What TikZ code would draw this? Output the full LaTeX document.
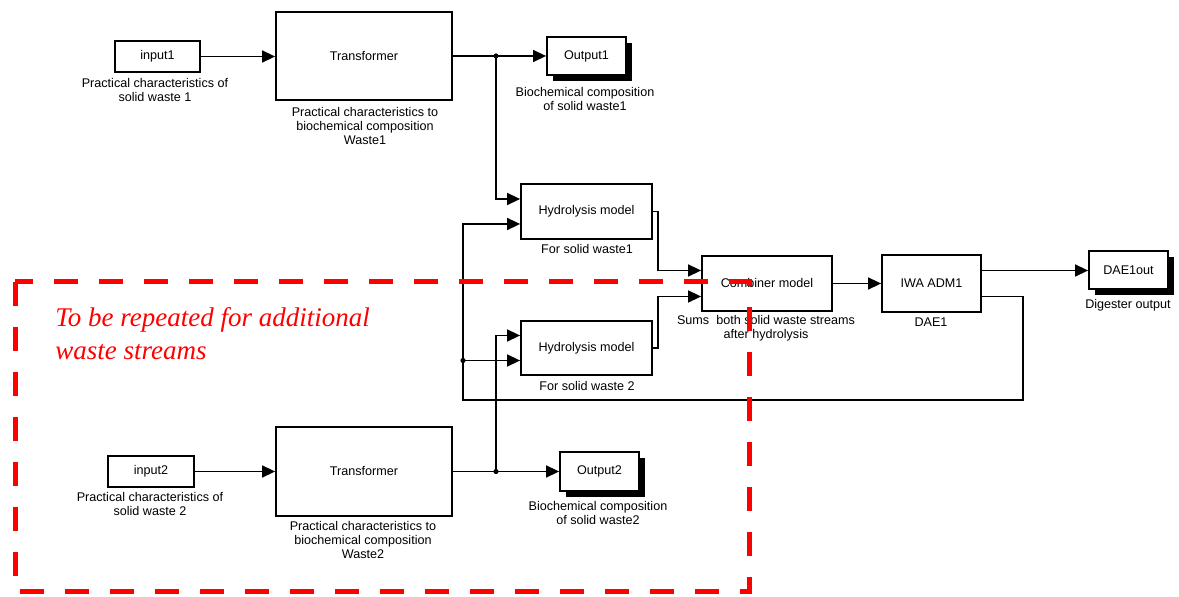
\documentclass[tikz,border=0pt]{standalone}
\usepackage{fontspec}
\setmainfont{Liberation Sans}
\newfontfamily\redserif{Liberation Serif}
\usetikzlibrary{arrows.meta,calc,shadows}
\begin{document}
\begin{tikzpicture}[x=0.5pt,y=-0.5pt,
  blk/.style={draw,line width=0.9pt,fill=white,inner sep=0pt,font=\fontsize{6.3}{7.5}\selectfont},
  oblk/.style={blk,minimum width=39.5pt,minimum height=19pt,drop shadow={shadow xshift=3pt,shadow yshift=-3pt,opacity=1,fill=black}},
  lbl/.style={align=center,inner sep=0pt,font=\fontsize{6.3}{7}\selectfont},
  wire/.style={line width=0.75pt},
  arr/.style={wire,-{Triangle[length=6.5pt,width=6pt]}},
  redlbl/.style={text=red,inner sep=0pt,anchor=base west,font=\redserif\itshape\fontsize{13.5}{16}\selectfont},
  redbox/.style={draw=red,line width=2.5pt,dash pattern=on 12pt off 10.5pt}
]
\useasboundingbox (0,0) rectangle (1179,597);

% upper stream
\node[blk,minimum width=42.5pt,minimum height=15.5pt] (in1) at (157.5,56.5) {input1};
\node[lbl] (in1l) at (155,90.5) {Practical characteristics of\\solid waste 1};
\node[blk,minimum width=88pt,minimum height=44pt] (tr1) at (364,56) {Transformer};
\node[lbl] (tr1l) at (365,126) {Practical characteristics to\\biochemical composition\\Waste1};
\node[oblk] (out1) at (586.5,56) {Output1};
\node[lbl] (out1l) at (585,99) {Biochemical composition\\of solid waste1};

% hydrolysis
\node[blk,minimum width=65.5pt,minimum height=27.5pt] (hy1) at (586.5,211.5) {Hydrolysis model};
\node[lbl] (hy1l) at (587,249) {For solid waste1};
\node[blk,minimum width=65.5pt,minimum height=27pt] (hy2) at (586.5,348) {Hydrolysis model};
\node[lbl] (hy2l) at (587,386) {For solid waste 2};

% combiner, ADM1, output
\node[blk,minimum width=65pt,minimum height=27.5pt] (cmb) at (767,283.5) {Combiner model};
\node[lbl] (cmbl) at (766,328) {Sums\ \ both solid waste streams\\after hydrolysis};
\node[blk,minimum width=49.5pt,minimum height=28.5pt] (iwa) at (931.5,283.5) {IWA ADM1};
\node[lbl] (iwal) at (931,322) {DAE1};
\node[oblk] (dae) at (1128.5,270) {DAE1out};
\node[lbl] (dael) at (1128,305) {Digester output};

% lower stream
\node[blk,minimum width=43pt,minimum height=15.5pt] (in2) at (151,471.5) {input2};
\node[lbl] (in2l) at (150,504) {Practical characteristics of\\solid waste 2};
\node[blk,minimum width=88pt,minimum height=44.5pt] (tr2) at (364,471.5) {Transformer};
\node[lbl] (tr2l) at (363,540) {Practical characteristics to\\biochemical composition\\Waste2};
\node[oblk,minimum height=19.5pt] (out2) at (599.5,471.5) {Output2};
\node[lbl] (out2l) at (598,513.5) {Biochemical composition\\of solid waste2};

% helper coordinates
\coordinate (j1) at (496,56);
\coordinate (j2) at (496,471.5);
\coordinate (fbR) at (1023,400);
\coordinate (fbL) at (463,400);
\path ([yshift=6.25pt]hy1.west) coordinate (h1a);
\path ([yshift=-6.25pt]hy1.west) coordinate (h1b);
\path ([yshift=6.25pt]hy2.west) coordinate (h2a);
\path ([yshift=-6.25pt]hy2.west) coordinate (h2b);
\path ([yshift=6.5pt]cmb.west) coordinate (c1);
\path ([yshift=-6.5pt]cmb.west) coordinate (c2);
\path ([yshift=6.5pt]iwa.east) coordinate (iwo1);
\path ([yshift=-6.5pt]iwa.east) coordinate (iwo2);
\coordinate (j3) at (fbL |- h2b);

% wires
\draw[arr] (in1.east) -- (in1.east -| tr1.west);
\draw[arr] (tr1.east) -- (tr1.east -| out1.west);
\draw[arr] (j1) |- (h1a);
\fill (j1) circle[radius=1.3pt];
\draw[arr] (in2.east) -- (in2.east -| tr2.west);
\draw[arr] (tr2.east) -- (tr2.east -| out2.west);
\draw[arr] (j2) |- (h2a);
\fill (j2) circle[radius=1.3pt];
\draw[arr] (iwo2) -| (fbR) -- (fbL) |- (h1b);
\draw[arr] (j3) -- (h2b);
\fill (j3) circle[radius=1.3pt];
\draw[arr] (hy1.east) -- ++(2.5pt,0) |- (c1);
\draw[arr] (hy2.east) -- ++(2.5pt,0) |- (c2);
\draw[arr] (cmb.east) -- (cmb.east -| iwa.west);
\draw[arr] (iwo1) -- (iwo1 -| dae.west);

% red dashed region
\draw[redbox] (15,282) rectangle (749,592);
\node[redlbl] (rt1) at (55,327) {To be repeated for additional};
\node[redlbl] (rt2) at (55,360) {waste streams};
\end{tikzpicture}
\end{document}
